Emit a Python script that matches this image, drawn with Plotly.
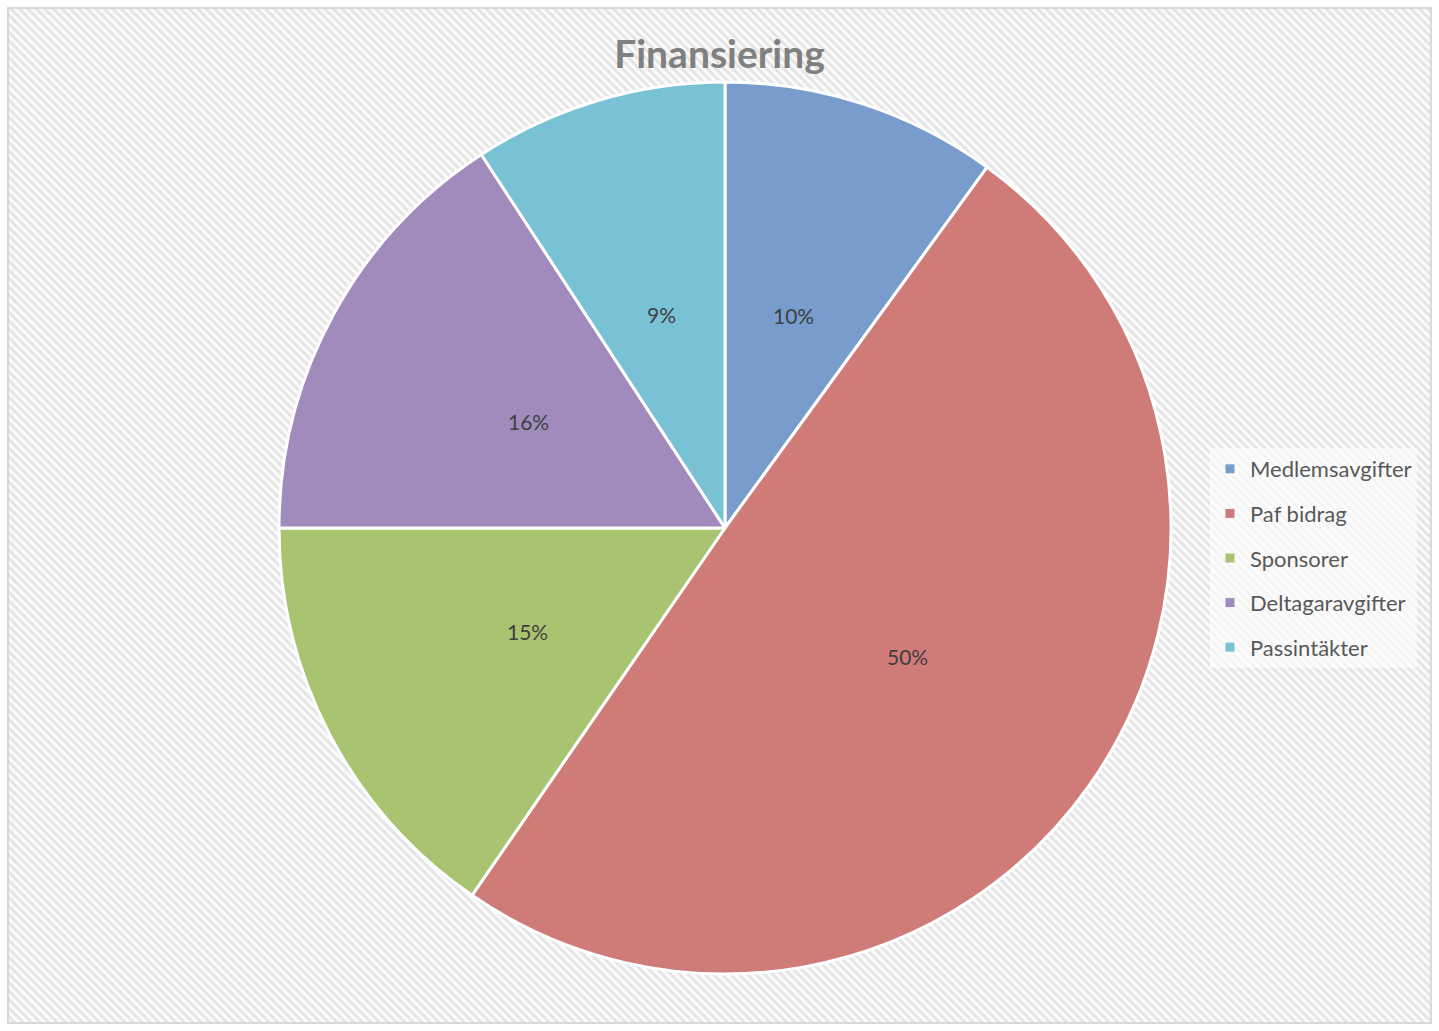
import base64
import math
import plotly.graph_objects as go

W, H = 1439, 1031

title = "Finansiering"
categories = ["Medlemsavgifter", "Paf bidrag", "Sponsorer", "Deltagaravgifter", "Passintäkter"]
values = [10.0, 49.6, 15.4, 15.8, 9.2]
colors = ["#789CCB", "#CF7B78", "#A9C471", "#A18BBC", "#79C1D5"]

# background: diagonal light-gray hatch with thin border
svg = f"""<svg xmlns='http://www.w3.org/2000/svg' width='{W}' height='{H}'>
<defs><pattern id='p' patternUnits='userSpaceOnUse' width='6' height='6' patternTransform='rotate(-45)'>
<rect width='6' height='6' fill='#fafafa'/><rect width='3' height='6' fill='#e5e5e5'/></pattern></defs>
<rect width='{W}' height='{H}' fill='white'/>
<rect x='8' y='8' width='{W-16}' height='{H-16}' fill='url(#p)' stroke='#d9d9d9' stroke-width='2'/>
</svg>"""
bg_src = "data:image/svg+xml;base64," + base64.b64encode(svg.encode()).decode()

# pie placement (pixels)
pie_x0, pie_x1 = 279, 1171
pie_top, pie_bot = 82, 974
dom_x = [pie_x0 / W, pie_x1 / W]
dom_y = [1 - pie_bot / H, 1 - pie_top / H]

fig = go.Figure()
fig.add_trace(go.Pie(
    labels=categories,
    values=values,
    sort=False,
    direction="clockwise",
    rotation=0,
    marker=dict(colors=colors, line=dict(color="white", width=3)),
    textinfo="none",
    domain=dict(x=dom_x, y=dom_y),
    showlegend=False,
    hoverinfo="label+percent",
))

# data labels at half radius along each slice bisector
total = sum(values)
cx, cy = (pie_x0 + pie_x1) / 2, (pie_top + pie_bot) / 2
R = (pie_x1 - pie_x0) / 2
cum = 0.0
for v in values:
    mid = (cum + v / 2) / total * 2 * math.pi
    cum += v
    px = cx + 0.5 * R * math.sin(mid)
    py = cy - 0.5 * R * math.cos(mid)
    fig.add_annotation(
        x=px / W, y=1 - py / H, xref="paper", yref="paper",
        text=f"{v / total:.0%}", showarrow=False,
        font=dict(family="Lato", size=21, color="#404040"),
        xanchor="center", yanchor="middle",
    )

# legend entries (one per category)
for c, col in zip(categories, colors):
    fig.add_trace(go.Scatter(
        x=[None], y=[None], mode="markers", name=c, legendgroup=c,
        marker=dict(symbol="square", size=9, color=col),
    ))

fig.update_layout(
    width=W, height=H,
    margin=dict(l=0, r=0, t=0, b=0),
    paper_bgcolor="white",
    plot_bgcolor="rgba(0,0,0,0)",
    xaxis=dict(visible=False),
    yaxis=dict(visible=False),
    title=dict(text=f"<b>{title}</b>", x=0.5, xanchor="center", y=1 - 54 / H, yanchor="middle",
               font=dict(family="Lato", size=39, color="#808080")),
    legend=dict(
        x=1210 / W, xanchor="left", y=1 - 558 / H, yanchor="middle",
        font=dict(family="Lato", size=22, color="#595959"),
        bgcolor="rgba(255,255,255,0.6)",
        tracegroupgap=13, itemwidth=30, traceorder="grouped",
    ),
    images=[dict(source=bg_src, xref="paper", yref="paper", x=0, y=1, sizex=1, sizey=1,
                 xanchor="left", yanchor="top", sizing="stretch", layer="below")],
)

fig.write_html("out.html", config={"displayModeBar": False},
               post_script="document.body.style.margin='0';document.body.style.overflow='hidden';")
